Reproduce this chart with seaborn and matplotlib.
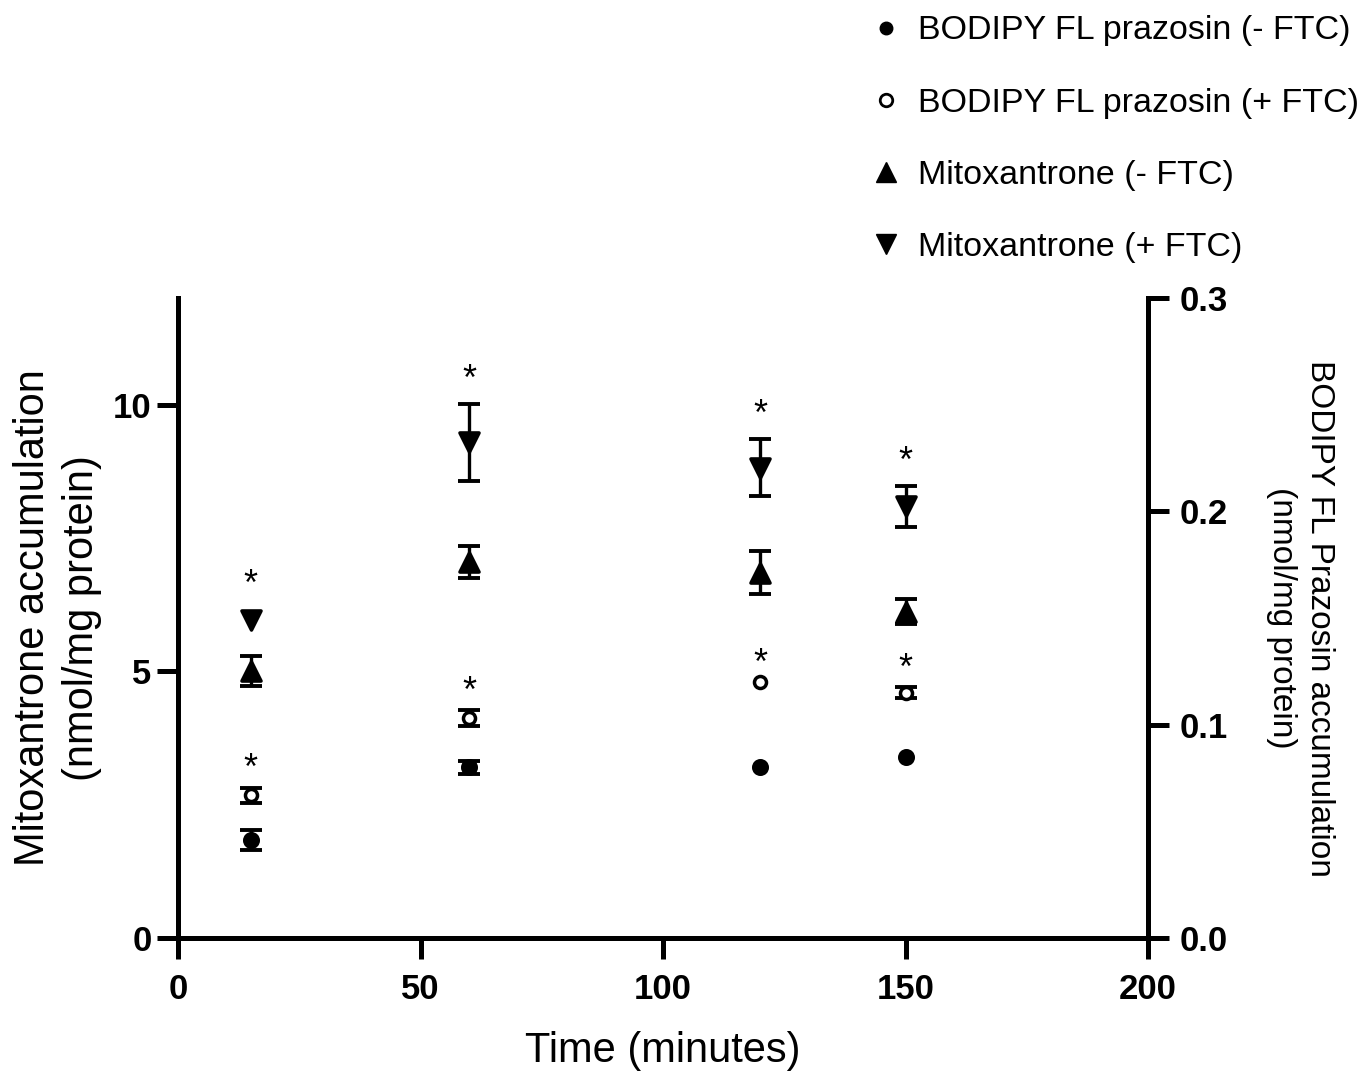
import numpy as np
import pandas as pd
import matplotlib
matplotlib.use("Agg")
import matplotlib.pyplot as plt
from matplotlib.lines import Line2D
import seaborn as sns

# Time points (minutes)
time_min = [15, 60, 120, 150]

# Mitoxantrone accumulation (nmol/mg protein), left axis
mito_minus = [5.00, 7.05, 6.85, 6.12]
mito_minus_err = [0.28, 0.30, 0.41, 0.23]
mito_plus = [5.97, 9.29, 8.82, 8.09]
mito_plus_err = [0.0, 0.73, 0.54, 0.38]

# BODIPY FL prazosin accumulation (nmol/mg protein), right axis
bod_minus = [0.046, 0.080, 0.080, 0.085]
bod_minus_err = [0.0047, 0.003, 0.0, 0.0]
bod_plus = [0.067, 0.103, 0.120, 0.115]
bod_plus_err = [0.0035, 0.0037, 0.0, 0.0026]

legend_labels = [
    "BODIPY FL prazosin (- FTC)",
    "BODIPY FL prazosin (+ FTC)",
    "Mitoxantrone (- FTC)",
    "Mitoxantrone (+ FTC)",
]

sns.set_style("ticks")
plt.rcParams["font.family"] = ["Liberation Sans", "DejaVu Sans"]
for key in ("text.color", "axes.labelcolor", "xtick.color", "ytick.color", "axes.edgecolor"):
    plt.rcParams[key] = "black"

fig = plt.figure(figsize=(13.61, 10.71), dpi=100)
ax = fig.add_axes([0.1308, 0.1242, 0.7127, 0.5976])
ax2 = ax.twinx()

df = pd.DataFrame({
    "time": time_min,
    "mito_minus": mito_minus, "mito_minus_err": mito_minus_err,
    "mito_plus": mito_plus, "mito_plus_err": mito_plus_err,
    "bod_minus": bod_minus, "bod_minus_err": bod_minus_err,
    "bod_plus": bod_plus, "bod_plus_err": bod_plus_err,
})

err_kw = dict(fmt="none", ecolor="black", elinewidth=2.4, capsize=8, capthick=2.8)


def draw_series(axis, col, marker, size, face):
    sub = df[df[col + "_err"] > 0]
    axis.errorbar(sub["time"], sub[col], yerr=sub[col + "_err"], zorder=2, **err_kw)
    sns.scatterplot(data=df, x="time", y=col, ax=axis, marker=marker, s=size,
                    color=face, edgecolor="black", linewidth=2.5, zorder=3, legend=False)


draw_series(ax, "mito_minus", "^", 190, "black")
draw_series(ax, "mito_plus", "v", 190, "black")
draw_series(ax2, "bod_minus", "o", 95, "black")
draw_series(ax2, "bod_plus", "o", 75, "white")

# significance asterisks above the +FTC series
for t, m, e in zip(time_min, mito_plus, mito_plus_err):
    ax.annotate("*", (t, m + e), xytext=(0, 10 if e > 0 else 18), textcoords="offset points",
                ha="center", va="baseline", fontsize=26)
for t, m, e in zip(time_min, bod_plus, bod_plus_err):
    ax2.annotate("*", (t, m + e), xytext=(0, 6), textcoords="offset points",
                 ha="center", va="baseline", fontsize=26)

ax.set_xlim(0, 200)
ax.set_ylim(0, 12)
ax2.set_ylim(0, 0.3)
ax.set_xticks([0, 50, 100, 150, 200])
ax.set_yticks([0, 5, 10])
ax2.set_yticks([0.0, 0.1, 0.2, 0.3])
ax2.set_yticklabels(["0.0", "0.1", "0.2", "0.3"])

for a in (ax, ax2):
    a.spines["top"].set_visible(False)
    for s in ("left", "right", "bottom"):
        a.spines[s].set_linewidth(3.6)
    a.tick_params(width=3.6, length=15, labelsize=25, direction="out")
    for lab in a.get_xticklabels() + a.get_yticklabels():
        lab.set_fontweight("bold")
ax.spines["right"].set_visible(False)
ax2.spines["left"].set_visible(False)
ax2.spines["bottom"].set_visible(False)
ax.tick_params(axis="x", pad=10)
ax.tick_params(axis="y", pad=4)
ax2.tick_params(axis="y", pad=8)

ax.set_xlabel("Time (minutes)", fontsize=30, labelpad=18)
ax.set_ylabel("Mitoxantrone accumulation\n(nmol/mg protein)", fontsize=30, labelpad=8,
              linespacing=1.3)
ax2.set_ylabel("BODIPY FL Prazosin accumulation\n(nmol/mg protein)", fontsize=24,
               rotation=270, va="bottom", labelpad=27, linespacing=1.3)

handles = [
    Line2D([], [], marker="o", color="black", linestyle="none", markersize=9),
    Line2D([], [], marker="o", markerfacecolor="white", markeredgecolor="black",
           markeredgewidth=2, linestyle="none", markersize=9),
    Line2D([], [], marker="^", color="black", linestyle="none", markersize=14),
    Line2D([], [], marker="v", color="black", linestyle="none", markersize=14),
]
fig.legend(handles, legend_labels, loc="upper left", bbox_to_anchor=(0.621, 1.011),
           frameon=False, fontsize=24.5, labelspacing=1.21, handlelength=0.8,
           handletextpad=0.54, borderpad=0.3)

fig.savefig("out.png", dpi=100)
